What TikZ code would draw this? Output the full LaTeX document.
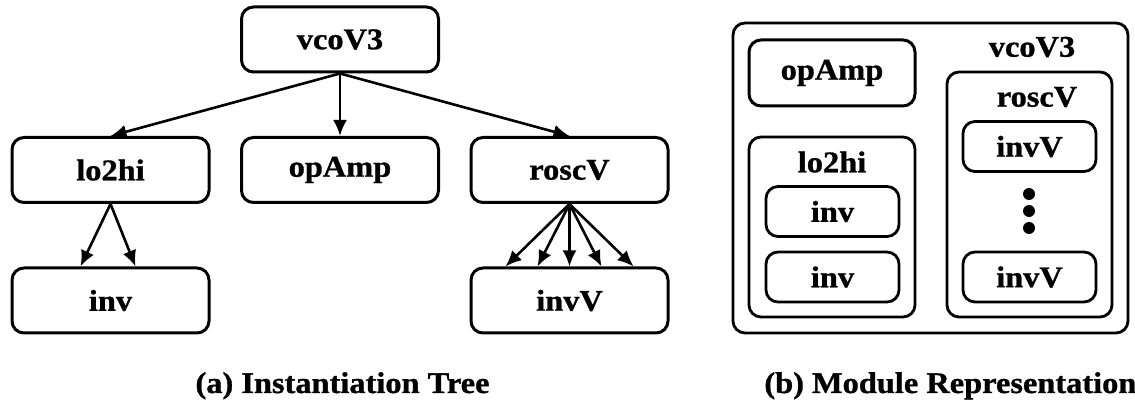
\documentclass[tikz,border=0pt]{standalone}
\usepackage{fontspec}
\setmainfont{Liberation Serif}[FakeStretch=1.08, BoldFeatures={FakeBold=1}]
\usetikzlibrary{positioning, arrows.meta}

\begin{document}
\begin{tikzpicture}[
    x=0.5pt, y=-0.5pt,
    font=\fontsize{15}{17}\selectfont\bfseries,
    box/.style={rectangle, draw, line width=1.5pt, rounded corners=6pt, text centered, minimum width=98.5pt, minimum height=32.5pt, inner sep=0pt},
    sub/.style={box, line width=1.4pt, minimum width=66.5pt, minimum height=25pt},
    frame/.style={rectangle, draw, line width=1.4pt, rounded corners=6pt, inner sep=0pt},
    lbl/.style={inner sep=0pt},
    dot/.style={circle, fill, inner sep=0pt, minimum size=6pt},
    arrow/.style={-{Latex[length=8pt, width=7pt]}, line width=1.3pt}
]
    \useasboundingbox (0,0) rectangle (1135,400);

    % (a) instantiation tree
    \node[box] (top) at (340,39.5) {vcoV3};
    \node[box] (lo2hi) at (110.5,170) {lo2hi};
    \node[box] (amp) at (340,170) {opAmp};
    \node[box] (rosc) at (569.5,170) {roscV};
    \node[box] (inv) at (110.5,300.5) {inv};
    \node[box] (invv) at (569.5,300.5) {invV};

    \draw[arrow] (top.south) -- (lo2hi.north);
    \draw[arrow] (top.south) -- (amp.north);
    \draw[arrow] (top.south) -- (rosc.north);
    \draw[arrow] (lo2hi.south) -- ([xshift=-15pt]inv.north);
    \draw[arrow] (lo2hi.south) -- ([xshift=12.5pt]inv.north);
    \foreach \dx in {-32,-16,0,16,32}
        \draw[arrow] (rosc.south) -- ([xshift=\dx pt]invv.north);

    % (b) module representation
    \node[frame, minimum width=197.5pt, minimum height=155pt] (mod) at (930.5,178) {};
    \node[lbl] (modname) at (1032,47) {vcoV3};
    \node[box, minimum width=83pt, minimum height=33pt] (mamp) at (832,73) {opAmp};
    \node[frame, minimum width=83pt, minimum height=90pt] (mlo) at (832,227) {};
    \node[lbl] (mloname) at (832,162) {lo2hi};
    \node[sub] (minv1) at (832.5,211.5) {inv};
    \node[sub] (minv2) at (832.5,277) {inv};
    \node[frame, minimum width=82.5pt, minimum height=122.5pt] (mrosc) at (1029.5,194.5) {};
    \node[lbl] (mroscname) at (1037,97) {roscV};
    \node[sub] (minvv1) at (1029.5,146.5) {invV};
    \foreach \i/\y in {1/194,2/211,3/228}
        \node[dot] (dot\i) at (1029,\y) {};
    \node[sub] (minvv2) at (1029.5,277) {invV};

    % captions
    \node[lbl, anchor=base] (capa) at (342.5,393) {(a) Instantiation Tree};
    \node[lbl, anchor=base west] (capb) at (764,393) {(b) Module Representation};
\end{tikzpicture}
\end{document}
